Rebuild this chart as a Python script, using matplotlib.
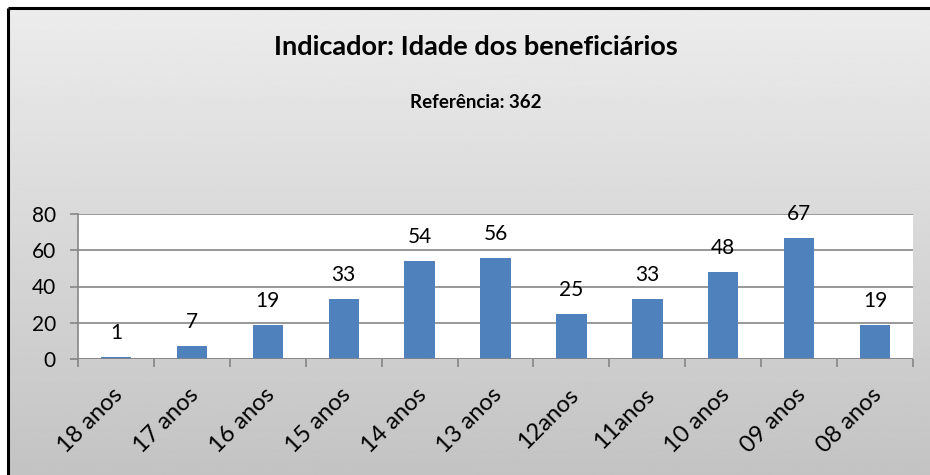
import matplotlib.pyplot as plt
import numpy as np

# data
categorias = ["18 anos", "17 anos", "16 anos", "15 anos", "14 anos", "13 anos",
              "12anos", "11anos", "10 anos", "09 anos", "08 anos"]
valores = [1, 7, 19, 33, 54, 56, 25, 33, 48, 67, 19]
yticks = [0, 20, 40, 60, 80]

plt.rcParams['font.family'] = ['Lato', 'DejaVu Sans']

W, H = 930, 475
fig = plt.figure(figsize=(W / 100, H / 100), dpi=100)
fig.patch.set_facecolor('white')

# gradient background of the chart frame
bg = fig.add_axes([0, 0, 1, 1], zorder=-10)
grad = np.linspace(0.925, 0.765, 256).reshape(-1, 1)
x0, y0 = 8 / W, 1 - 8 / H
bg.imshow(grad, cmap='gray', vmin=0, vmax=1, aspect='auto',
          extent=[x0, 1, 0, y0])
bg.set_xlim(0, 1)
bg.set_ylim(0, 1)
bg.axis('off')
bg.plot([x0, x0], [0, y0], color='black', lw=2.2, solid_capstyle='butt')
bg.plot([x0, 1], [y0, y0], color='black', lw=2.2, solid_capstyle='butt')

ax = fig.add_axes([78 / W, 1 - 359 / H, (913 - 78) / W, (359 - 214) / H])
ax.set_facecolor('white')
x = np.arange(len(categorias))
bars = ax.bar(x, valores, width=0.4, color='#4F81BD', zorder=3)
ax.set_xlim(-0.5, len(categorias) - 0.5)
ax.set_ylim(0, 80)
ax.set_yticks(yticks)
ax.yaxis.grid(True, color='#868686', lw=1.2, zorder=0)
for s in ['top', 'right', 'bottom']:
    ax.spines[s].set_visible(False)
ax.spines['left'].set_color('#868686')
ax.spines['left'].set_linewidth(1.2)
ax.axhline(0, color='#868686', lw=1.2, zorder=4)
ax.tick_params(axis='y', length=6, color='#868686', width=1.2, labelsize=15, pad=10)

# category ticks between bars, labels at centres
ax.set_xticks(np.arange(len(categorias) + 1) - 0.5)
ax.set_xticklabels([])
ax.tick_params(axis='x', length=6, color='#868686', width=1.2)
for i, c in enumerate(categorias):
    ax.annotate(c, xy=(i, 0), xytext=(-3, -18), textcoords='offset points',
                rotation=45, ha='right', va='top', rotation_mode='anchor',
                fontsize=17, annotation_clip=False)

for b, v in zip(bars, valores):
    ax.annotate(str(v), xy=(b.get_x() + b.get_width() / 2, v), xytext=(0, 10),
                textcoords='offset points', ha='center', va='bottom', fontsize=15)

fig.text(476 / W, 1 - 47 / H, "Indicador: Idade dos beneficiários", ha='center',
         va='center', fontsize=19.5, fontweight='bold')
fig.text(476 / W, 1 - 102 / H, "Referência: 362", ha='center', va='center',
         fontsize=13.5, fontweight='bold')

fig.savefig('out.png', dpi=100)
